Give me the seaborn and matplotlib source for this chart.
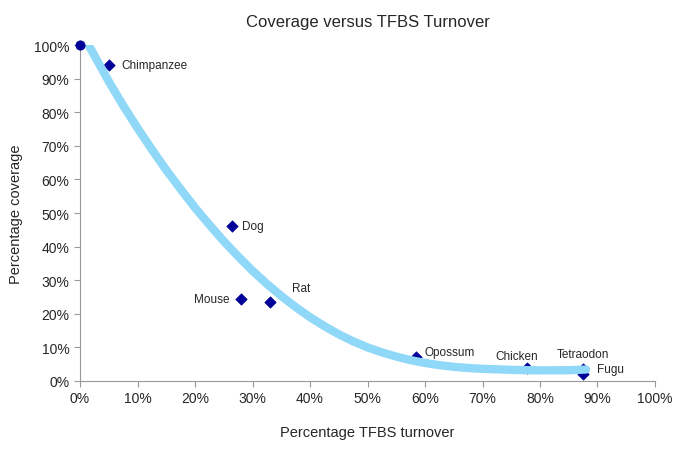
import numpy as np
import pandas as pd
import matplotlib
matplotlib.use("Agg")
import matplotlib.pyplot as plt
import seaborn as sns
from matplotlib.ticker import PercentFormatter

# species points (turnover %, coverage %)
species = ["Human", "Chimpanzee", "Dog", "Mouse", "Rat", "Opossum", "Chicken", "Tetraodon", "Fugu"]
turnover = [0, 5, 26.5, 28, 33, 58.5, 77.8, 87.5, 87.5]
coverage = [100, 94, 46, 24.5, 23.5, 7, 4, 3.6, 2.0]

# trendline
curve_x = [1.5, 5, 7.5, 10, 12.5, 15, 17.5, 20, 22.5, 25, 27.5, 30, 32.5, 35, 37.5, 40,
           42.5, 45, 47.5, 50, 52.5, 55, 57.5, 60, 62.5, 65, 67.5, 70, 75, 80, 85, 88]
curve_y = [100, 89.2, 82.0, 75.3, 68.9, 62.8, 57.1, 51.6, 46.5, 41.6, 37.1, 32.8, 28.9, 25.3, 22.0, 19.0,
           16.3, 13.9, 11.8, 10.0, 8.5, 7.25, 6.2, 5.35, 4.7, 4.2, 3.85, 3.6, 3.3, 3.15, 3.2, 3.4]

pts = pd.DataFrame({"species": species, "turnover": turnover, "coverage": coverage})
trend = pd.DataFrame({"x": curve_x, "y": curve_y})

sns.set_style("ticks")
plt.rcParams["font.family"] = ["Liberation Sans", "DejaVu Sans"]

fig = plt.figure(figsize=(6.85, 4.52), dpi=100)
ax = fig.add_axes([0.1168, 0.155, 0.8394, 0.743])

diam = pts[pts["species"] != "Human"]
sns.scatterplot(data=diam, x="turnover", y="coverage", ax=ax, marker="D", s=34,
                color="#000099", edgecolor="#000099", zorder=2)
sns.scatterplot(data=pts[pts["species"] == "Human"], x="turnover", y="coverage", ax=ax,
                marker="o", s=45, color="#000099", edgecolor="#000099", zorder=3, clip_on=False)

# trendline sits on top of the markers, as in the original
sns.lineplot(data=trend, x="x", y="y", ax=ax, color="#90d8f8", linewidth=6,
             solid_capstyle="round", solid_joinstyle="round", zorder=2.5)

# label offsets in points
offsets = {
    "Chimpanzee": (9, 0, "left", "center"),
    "Dog": (7, 0, "left", "center"),
    "Mouse": (-8, 0, "right", "center"),
    "Rat": (16, 10, "left", "center"),
    "Opossum": (6, 4, "left", "center"),
    "Chicken": (-8, 8, "center", "center"),
    "Tetraodon": (0, 11, "center", "center"),
    "Fugu": (10, 4, "left", "center"),
}
for _, r in pts.iterrows():
    if r["species"] in offsets:
        dx, dy, ha, va = offsets[r["species"]]
        ax.annotate(r["species"], (r["turnover"], r["coverage"]), xytext=(dx, dy),
                    textcoords="offset points", ha=ha, va=va, fontsize=8.5)

ax.set_xlim(0, 100)
ax.set_ylim(0, 100)
ax.set_xticks(np.arange(0, 101, 10))
ax.set_yticks(np.arange(0, 101, 10))
ax.xaxis.set_major_formatter(PercentFormatter(decimals=0))
ax.yaxis.set_major_formatter(PercentFormatter(decimals=0))
ax.tick_params(labelsize=10, color="#999999", length=4, width=0.8)
for s in ["left", "bottom"]:
    ax.spines[s].set_color("#999999")
    ax.spines[s].set_linewidth(0.8)
sns.despine(ax=ax)

ax.set_xlabel("Percentage TFBS turnover", fontsize=10.5, labelpad=14)
ax.set_ylabel("Percentage coverage", fontsize=10.5, labelpad=8)
ax.set_title("Coverage versus TFBS Turnover", fontsize=12, pad=14)

fig.savefig("out.png", dpi=100)
